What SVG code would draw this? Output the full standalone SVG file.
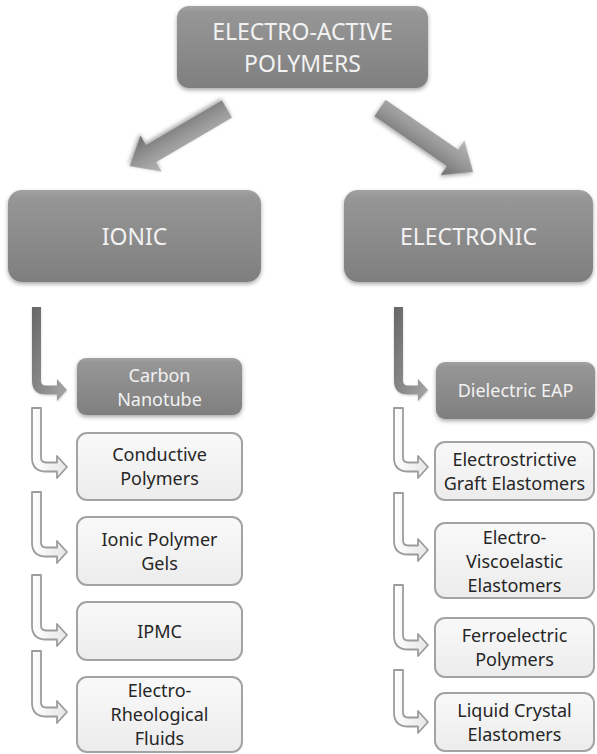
<svg xmlns="http://www.w3.org/2000/svg" width="597" height="754" viewBox="0 0 597 754">
  <defs>
    <linearGradient id="gDark" x1="0" y1="0" x2="0" y2="1">
      <stop offset="0" stop-color="#a3a3a3"/>
      <stop offset="0.08" stop-color="#969696"/>
      <stop offset="1" stop-color="#7f7f7f"/>
    </linearGradient>
    <linearGradient id="gLight" x1="0" y1="0" x2="0" y2="1">
      <stop offset="0" stop-color="#f9f9f9"/>
      <stop offset="1" stop-color="#ececec"/>
    </linearGradient>
    <linearGradient id="gBig" gradientUnits="userSpaceOnUse" x1="0" y1="-21" x2="0" y2="21">
      <stop offset="0" stop-color="#b5b5b5"/>
      <stop offset="0.45" stop-color="#9a9a9a"/>
      <stop offset="1" stop-color="#6e6e6e"/>
    </linearGradient>
    <linearGradient id="gElbow" x1="0" y1="0" x2="1" y2="1">
      <stop offset="0" stop-color="#666"/>
      <stop offset="1" stop-color="#a8a8a8"/>
    </linearGradient>
    <linearGradient id="gElbowLight" x1="0" y1="0" x2="1" y2="0">
      <stop offset="0" stop-color="#ffffff"/>
      <stop offset="1" stop-color="#e6e6e6"/>
    </linearGradient>
    <filter id="shadow" x="-10%" y="-10%" width="120%" height="130%">
      <feDropShadow dx="0" dy="2" stdDeviation="2" flood-color="#000" flood-opacity="0.35"/>
    </filter>
    <filter id="softShadow" x="-10%" y="-10%" width="120%" height="130%">
      <feDropShadow dx="0" dy="1" stdDeviation="1.2" flood-color="#000" flood-opacity="0.2"/>
    </filter>
  </defs>
  <style>
    .dark { fill: url(#gDark); filter: url(#shadow); }
    .light { fill: url(#gLight); stroke: #a3a3a3; stroke-width: 2; }
    .big { font-family: "Noto Sans", "Open Sans", sans-serif; font-size: 23px; fill: #f2f2f2; text-anchor: middle; }
    .tw { font-family: "Noto Sans", "Open Sans", sans-serif; font-size: 18px; fill: #f2f2f2; text-anchor: middle; }
    .tk { font-family: "Noto Sans", "Open Sans", sans-serif; font-size: 18px; fill: #262626; text-anchor: middle; }
    .arrowBig { fill: url(#gBig); filter: url(#shadow); }
    .elbowDark { fill: url(#gElbow); filter: url(#softShadow); }
    .elbowLight { fill: url(#gElbowLight); stroke: #9c9c9c; stroke-width: 1.8; stroke-linejoin: round; }
  </style>

  <rect width="597" height="754" fill="#ffffff"/>

  <!-- connectors -->
  <g id="connectors">
    <!-- main split arrows -->
    <g transform="translate(227 109) rotate(149.6)">
      <polygon class="arrowBig" points="0,-10 88,-10 88,-21 113,0 88,21 88,10 0,10"/>
    </g>
    <g transform="translate(380 108) rotate(34.5)">
      <polygon class="arrowBig" points="0,-10 88,-10 88,-21 113,0 88,21 88,10 0,10"/>
    </g>

    <!-- ionic column -->
    <path class="elbowDark" d="M32 307 h9 V380.5 q0 5 5 5 H57 v-6.5 l10 11 l-10 11 v-6.5 H46 q-14 0 -14 -14 Z"/>
    <path class="elbowLight" d="M32 408 h9 V457.5 q0 5 5 5 H57 v-6.5 l10 11 l-10 11 v-6.5 H46 q-14 0 -14 -14 Z"/>
    <path class="elbowLight" d="M32 492 h9 V542.5 q0 5 5 5 H57 v-6.5 l10 11 l-10 11 v-6.5 H46 q-14 0 -14 -14 Z"/>
    <path class="elbowLight" d="M32 575 h9 V625.5 q0 5 5 5 H57 v-6.5 l10 11 l-10 11 v-6.5 H46 q-14 0 -14 -14 Z"/>
    <path class="elbowLight" d="M32 651 h9 V702.5 q0 5 5 5 H57 v-6.5 l10 11 l-10 11 v-6.5 H46 q-14 0 -14 -14 Z"/>

    <!-- electronic column -->
    <path class="elbowDark" d="M394 307 h9 V380.5 q0 5 5 5 H418 v-6.5 l10 11 l-10 11 v-6.5 H408 q-14 0 -14 -14 Z"/>
    <path class="elbowLight" d="M394 408 h9 V457.5 q0 5 5 5 H418 v-6.5 l10 11 l-10 11 v-6.5 H408 q-14 0 -14 -14 Z"/>
    <path class="elbowLight" d="M394 493 h9 V540.5 q0 5 5 5 H418 v-6.5 l10 11 l-10 11 v-6.5 H408 q-14 0 -14 -14 Z"/>
    <path class="elbowLight" d="M394 585 h9 V635.5 q0 5 5 5 H418 v-6.5 l10 11 l-10 11 v-6.5 H408 q-14 0 -14 -14 Z"/>
    <path class="elbowLight" d="M394 670 h9 V712.5 q0 5 5 5 H418 v-6.5 l10 11 l-10 11 v-6.5 H408 q-14 0 -14 -14 Z"/>
  </g>

  <!-- top level -->
  <g id="eap">
    <rect class="dark" x="177" y="6" width="251" height="82" rx="12"/>
    <text class="big" x="302.5" y="40">ELECTRO-ACTIVE</text>
    <text class="big" x="302.5" y="72">POLYMERS</text>
  </g>

  <g id="ionic">
    <rect class="dark" x="8" y="190" width="253" height="92" rx="14"/>
    <text class="big" x="134.5" y="245">IONIC</text>
  </g>

  <g id="electronic">
    <rect class="dark" x="344" y="190" width="249" height="92" rx="14"/>
    <text class="big" x="468.5" y="245">ELECTRONIC</text>
  </g>

  <!-- ionic members -->
  <g id="carbon-nanotube">
    <rect class="dark" x="77" y="358" width="165" height="57" rx="9"/>
    <text class="tw" x="159.5" y="382">Carbon</text>
    <text class="tw" x="159.5" y="406">Nanotube</text>
  </g>

  <g id="conductive-polymers">
    <rect class="light" x="77" y="433" width="165" height="67" rx="10"/>
    <text class="tk" x="159.5" y="461">Conductive</text>
    <text class="tk" x="159.5" y="485">Polymers</text>
  </g>

  <g id="ionic-polymer-gels">
    <rect class="light" x="77" y="517" width="165" height="68" rx="10"/>
    <text class="tk" x="159.5" y="546">Ionic Polymer</text>
    <text class="tk" x="159.5" y="570">Gels</text>
  </g>

  <g id="ipmc">
    <rect class="light" x="77" y="602" width="165" height="58" rx="10"/>
    <text class="tk" x="159.5" y="638">IPMC</text>
  </g>

  <g id="electro-rheological-fluids">
    <rect class="light" x="77" y="677" width="165" height="75" rx="10"/>
    <text class="tk" x="159.5" y="697">Electro-</text>
    <text class="tk" x="159.5" y="721">Rheological</text>
    <text class="tk" x="159.5" y="745">Fluids</text>
  </g>

  <!-- electronic members -->
  <g id="dielectric-eap">
    <rect class="dark" x="436" y="362" width="159" height="57" rx="9"/>
    <text class="tw" x="515.5" y="397">Dielectric EAP</text>
  </g>

  <g id="electrostrictive-graft-elastomers">
    <rect class="light" x="435" y="442" width="159" height="58" rx="10"/>
    <text class="tk" x="514.5" y="466">Electrostrictive</text>
    <text class="tk" x="514.5" y="490">Graft Elastomers</text>
  </g>

  <g id="electro-viscoelastic-elastomers">
    <rect class="light" x="435" y="523" width="159" height="75" rx="10"/>
    <text class="tk" x="514.5" y="544">Electro-</text>
    <text class="tk" x="514.5" y="568">Viscoelastic</text>
    <text class="tk" x="514.5" y="592">Elastomers</text>
  </g>

  <g id="ferroelectric-polymers">
    <rect class="light" x="435" y="618" width="159" height="59" rx="10"/>
    <text class="tk" x="514.5" y="642">Ferroelectric</text>
    <text class="tk" x="514.5" y="666">Polymers</text>
  </g>

  <g id="liquid-crystal-elastomers">
    <rect class="light" x="435" y="693" width="159" height="58" rx="10"/>
    <text class="tk" x="514.5" y="717">Liquid Crystal</text>
    <text class="tk" x="514.5" y="741">Elastomers</text>
  </g>
</svg>
